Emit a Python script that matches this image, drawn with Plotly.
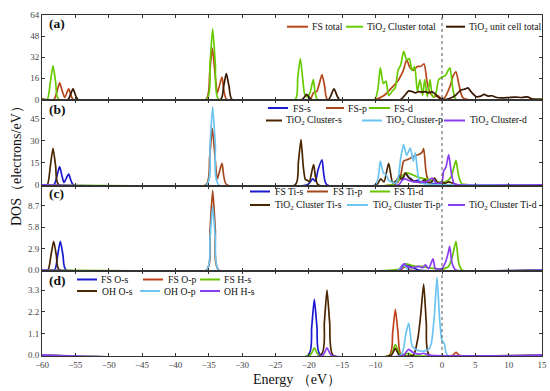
import plotly.graph_objects as go
from plotly.subplots import make_subplots

# ---------------- data ----------------
x_ticks = [-60, -55, -50, -45, -40, -35, -30, -25, -20, -15, -10, -5, 0, 5, 10, 15]

# panel (a)
fs_total_E = [-60, -58.2, -57.7, -57.35, -57.0, -56.6, -56.0, -55.3, -35.4, -34.85, -34.45, -34.05,
              -33.7, -33.0, -32.3, -19.8, -19.3, -18.8, -18.4, -18.0, -17.6, -17.2, -10.0, -8.7,
              -7.7, -6.5, -5.8, -5.3, -4.8, -4.3, -3.7, -3.2, -2.7, -2.2, -1.8, -1.2, -0.6, 0.0,
              0.5, 1.2, 1.7, 2.1, 2.6, 3.2, 15]
fs_total_V = [0, 0, 7, 12.5, 7, 1.5, 8, 0, 0, 20, 39, 20,
              5, 17, 0, 0, 5, 6, 12, 18.8, 10, 0, 0, 3,
              8, 15, 22, 30, 24, 22, 25, 25, 27, 12, 5, 2, 3, 0,
              2, 10, 18, 21, 10, 1, 0]
cl_total_E = [-60, -59.2, -58.75, -58.35, -57.95, -57.5, -35.3, -34.8, -34.4, -34.0, -33.5, -22.0,
              -21.65, -21.25, -20.9, -20.6, -20.2, -19.8, -19.3, -18.7, -10.1, -9.25, -8.8, -8.4,
              -8.0, -7.5, -7.0, -6.6, -6.2, -5.75, -5.3, -4.9, -4.5, -4.1, -3.7, -3.3, -2.9, -2.6,
              -2.2, -1.8, -1.4, -1.0, -0.5, 0.0, 0.5, 0.9, 1.2, 1.6, 2.1, 15]
cl_total_V = [0, 0, 13, 25.6, 13, 0, 0, 27, 53.5, 27, 0, 0,
              16, 31, 16, 4, 2, 5, 15, 0, 0, 24, 12, 14,
              3, 6, 9, 22, 26, 36.5, 30, 31, 22, 25, 6, 15, 3, 15,
              2, 15, 2, 3, 15, 17, 18, 22, 24, 9, 0, 0]
uc_total_E = [-60, -56.1, -55.35, -54.6, -33.2, -32.75, -32.35, -31.95, -31.5, -21.0, -20.3, -19.6,
              -17.0, -16.2, -15.4, -6.2, -5.6, -5.0, -4.5, -4.0, -3.5, -3.0, -2.5, -2.0, -1.5,
              -1.0, -0.4, 0.2, 1.0, 2.0, 2.8, 3.5, 3.9, 4.5, 5.2, 5.8, 6.3, 6.9, 7.5, 8.2, 9.0,
              10.0, 11.0, 12.0, 12.8, 13.5, 15]
uc_total_V = [0, 0, 8, 0, 0, 10, 19.5, 10, 0, 0, 3.8, 0,
              0, 8, 0, 0, 3, 6.5, 6, 5, 6, 5.5, 6, 5, 6,
              4, 1, 0, 0.5, 3, 7, 8, 8.8, 5, 2, 2.5, 3.8, 2.5, 2.8, 1.5, 1.2,
              1.5, 1.8, 1.5, 2, 0.5, 0]

# panel (b)
fs_s_E = [-60, -58.2, -57.7, -57.35, -57.0, -56.7, -56.0, -55.3, -20.2, -19.4, -19.0, -18.6,
          -18.0, -17.3, -7.2, -6.6, -6.3, -5.9, -5.5, -5.0, -4.6, -4.2, -3.7, -3.0, -2.3, -1.5,
          -0.8, 0, 15]
fs_s_V = [0, 0, 7, 12.4, 6, 1.5, 7.2, 0, 0, 4, 2.5, 10,
          17, 0, 0, 3, 6.5, 4, 8, 5, 4, 2, 3, 1.5, 2, 1,
          0.5, 0, 0]
fs_p_E = [-60, -35.4, -34.85, -34.45, -34.05, -33.7, -33.0, -32.3, -7.5, -6.6, -6.2, -5.76,
          -5.25, -4.75, -4.25, -3.5, -3.0, -2.75, -2.4, -2.0, -1.5, 0, 15]
fs_p_V = [0, 0, 19, 38.3, 19, 4, 14.6, 0, 0, 2, 6, 16,
          17, 18, 19.4, 20.5, 22, 24.5, 9, 2, 0, 0, 0]
fs_d_E = [-60, -7.5, -6.8, -6.3, -5.5, -4.5, -3.5, -2.5, -1.5, -0.5, 0.5, 1.3, 1.8, 2.1, 2.5,
          3.0, 4.0, 15]
fs_d_V = [0, 0, 2, 4, 8, 7, 5, 4, 3, 2, 2, 5, 12, 16.5, 6,
          0.5, 0, 0]
cl_s_E = [-60, -59.2, -58.75, -58.35, -57.95, -57.5, -22.0, -21.55, -21.15, -20.8, -20.5, -20.2,
          -19.9, -19.26, -18.6, -9.8, -9.2, -8.7, -8.0, -7.4, -6.8, -6.4, -6.0, -5.5, -5.0,
          -4.5, -3.8, -3.2, -2.6, -2.1, -1.6, -1.1, -0.6, 0.0, 0.5, 1.0, 1.6, 2.3, 15]
cl_s_V = [0, 0, 12.5, 24.8, 12.5, 0, 0, 15, 30.6, 12, 3.6, 3,
          2, 13.7, 0, 0, 4, 2, 14.6, 1.5, 3, 6, 3, 8, 5,
          3, 2, 1.5, 3.5, 1, 2, 4.5, 1, 1.5, 1, 2, 1, 0, 0]
cl_p_E = [-60, -35.3, -34.8, -34.4, -34.0, -33.5, -10.0, -9.25, -8.8, -8.4, -8.0, -7.0, -6.6,
          -6.2, -5.76, -5.3, -4.75, -4.3, -4.0, -3.5, -3.0, -2.0, 0, 15]
cl_p_V = [0, 0, 27, 52.9, 27, 0, 0, 16, 8, 7, 3, 1, 4,
          18, 27.2, 20, 24.9, 16, 21.6, 4, 1, 0.5, 0, 0]
cl_d_E = [-60, -6.5, -6.0, -5.5, -5.0, -4.0, -3.0, -2.5, -1.5, -0.8, 0.0, 0.25, 0.6, 1.0, 1.4,
          1.8, 2.5, 15]
cl_d_V = [0, 0, 3, 4, 3, 2, 2, 1.5, 4.5, 1, 2, 9.5, 12, 20.5, 8,
          1, 0, 0]

# panel (c)
fs_ti_s_E = [-60, -58.1, -57.65, -57.25, -56.85, -56.4, -6.5, -6.0, -5.5, -4.5, -3.5, 15]
fs_ti_s_V = [0, 0, 2, 3.9, 2, 0, 0, 0.6, 0.8, 0.4, 0, 0]
fs_ti_p_E = [-60, -35.3, -34.8, -34.4, -34.0, -33.5, -6.3, -5.5, -4.8, 15]
fs_ti_p_V = [0, 0, 5.4, 10.8, 5.4, 0, 0, 0.5, 0, 0]
fs_ti_d_E = [-60, -6.5, -5.8, -5.2, -4.5, -3.8, -3.0, -2.0, -1.0, 0.0, 1.0, 1.6, 2.1, 2.5, 3.0, 15]
fs_ti_d_V = [0, 0.1, 0.5, 0.8, 0.6, 0.5, 0.5, 0.3, 0.2, 0.1, 0.5, 2, 3.9, 1, 0, 0]
cl_ti_s_E = [-60, -59.1, -58.65, -58.25, -57.85, -57.4, 15]
cl_ti_s_V = [0, 0, 2, 3.9, 2, 0, 0]
cl_ti_p_E = [-60, -35.3, -34.8, -34.4, -34.0, -33.5, -6.5, -5.75, -5.0, 15]
cl_ti_p_V = [0, 0, 4.3, 8.6, 4.3, 0, 0, 0.7, 0, 0]
cl_ti_d_E = [-60, -6.3, -5.75, -5.3, -4.5, -3.5, -2.9, -2.5, -2.0, -1.35, -1.0, 0.0, 0.5, 0.9,
             1.15, 1.5, 2.0, 15]
cl_ti_d_V = [0, 0, 0.85, 0.5, 0.3, 0.5, 0.3, 0.7, 0.2, 1.5, 0.2, 0.2, 1, 2.2,
             3.2, 1, 0.05, 0]

# panel (d)
fs_o_s_E = [-60, -20.05, -19.55, -19.15, -18.75, -18.25, 15]
fs_o_s_V = [0, 0, 1.4, 2.83, 1.4, 0, 0]
fs_o_p_E = [-60, -7.9, -7.4, -7.0, -6.6, -6.1, 1.6, 2.1, 2.6, 15]
fs_o_p_V = [0, 0, 1.15, 2.33, 1.15, 0, 0, 0.15, 0, 0]
fs_h_s_E = [-60, -19.8, -19.15, -18.5, -7.7, -7.0, -6.3, -5.5, -5.0, -4.5, 15]
fs_h_s_V = [0, 0, 0.37, 0, 0, 0.54, 0.05, 0.05, 0.1, 0, 0]
oh_o_s_E = [-60, -18.15, -17.65, -17.25, -16.85, -16.35, -7.6, -7.0, -6.4, -4.3, -3.6, -3.15,
            -2.75, -2.35, -1.9, 15]
oh_o_s_V = [0, 0, 1.65, 3.3, 1.65, 0, 0, 0.35, 0, 0, 0.9, 2.2,
            3.6, 1.6, 0, 0]
oh_o_p_E = [-60, -6.2, -5.5, -5.0, -4.5, -4.0, -3.0, -2.0, -1.6, -1.15, -0.75, -0.35, 0.0, 0.35,
            0.8, 15]
oh_o_p_V = [0, 0, 0.95, 1.63, 0.5, 0.3, 0.2, 0.3, 0.6, 2.0, 3.94, 1.8, 0.75, 0.6,
            0, 0]
oh_h_s_E = [-60, -17.9, -17.25, -16.6, -5.8, -5.0, -4.4, -3.5, -2.75, -2.0, 15]
oh_h_s_V = [0, 0, 0.37, 0, 0, 0.3, 0.15, 0.05, 0.1, 0, 0]

# series names
names_a = ["FS total", "TiO<sub>2</sub> Cluster total", "TiO<sub>2</sub> unit cell total"]
names_b = ["FS-s", "FS-p", "FS-d", "TiO<sub>2</sub> Cluster-s", "TiO<sub>2</sub> Cluster-p",
           "TiO<sub>2</sub> Cluster-d"]
names_c = ["FS Ti-s", "FS Ti-p", "FS Ti-d", "TiO<sub>2</sub> Cluster Ti-s",
           "TiO<sub>2</sub> Cluster Ti-p", "TiO<sub>2</sub> Cluster Ti-d"]
names_d = ["FS O-s", "FS O-p", "FS H-s", "OH O-s", "OH O-p", "OH H-s"]

y_ticks_a = [0, 16, 32, 48, 64]
y_ticks_b = [0, 15, 30, 45]
y_ticks_c = [0, 2.9, 5.8, 8.7]
y_ticktext_c = ["0.0", "2.9", "5.8", "8.7"]
y_ticks_d = [0, 1.1, 2.2, 3.3]
y_ticktext_d = ["0.0", "1.1", "2.2", "3.3"]

# ---------------- styles ----------------
BLUE, BROWN, GREEN = "#1a1ad0", "#a5471c", "#66c400"
DARK, LBLUE, PURPLE = "#4a2600", "#6cc4f0", "#8a3cf2"
colors_a = ["#b8461c", "#66cc00", "#3a1800"]
colors_6 = [BLUE, BROWN, GREEN, DARK, LBLUE, PURPLE]
colors_d = [BLUE, "#c0401c", GREEN, DARK, LBLUE, PURPLE]

FONT = "Liberation Serif, Times New Roman, serif"
W, H = 550, 391
L, R, T, B = 42, 8, 15, 35
PW, PH = W - L - R, H - T - B

def px(x):   # page pixel -> paper x
    return (x - L) / PW

def py(y):   # page pixel -> paper y
    return (H - B - y) / PH

panels = [
    (1, list(zip([fs_total_E, cl_total_E, uc_total_E], [fs_total_V, cl_total_V, uc_total_V])),
     names_a, colors_a),
    (2, list(zip([fs_s_E, fs_p_E, fs_d_E, cl_s_E, cl_p_E, cl_d_E],
                 [fs_s_V, fs_p_V, fs_d_V, cl_s_V, cl_p_V, cl_d_V])), names_b, colors_6),
    (3, list(zip([fs_ti_s_E, fs_ti_p_E, fs_ti_d_E, cl_ti_s_E, cl_ti_p_E, cl_ti_d_E],
                 [fs_ti_s_V, fs_ti_p_V, fs_ti_d_V, cl_ti_s_V, cl_ti_p_V, cl_ti_d_V])),
     names_c, colors_6),
    (4, list(zip([fs_o_s_E, fs_o_p_E, fs_h_s_E, oh_o_s_E, oh_o_p_E, oh_h_s_E],
                 [fs_o_s_V, fs_o_p_V, fs_h_s_V, oh_o_s_V, oh_o_p_V, oh_h_s_V])),
     names_d, colors_d),
]

fig = make_subplots(rows=4, cols=1, shared_xaxes=True, vertical_spacing=0)

for row, series, names, cols in panels:
    for (e, v), n, c in zip(series, names, cols):
        fig.add_trace(go.Scatter(x=e, y=v, mode="lines", name=n, showlegend=False,
                                 hoverinfo="skip",
                                 line=dict(color=c, width=1.7, shape="spline", smoothing=0.6)),
                      row=row, col=1)

# legend layout (page pixel positions: line start, line end, text start, y)
legend_pos = [
    [(287, 308, 310, 26.7), (346, 363, 365, 26.7), (446, 465, 467, 26.7)],
    [(268, 288, 291, 108), (326, 344, 346, 108), (369, 390, 392, 108),
     (266, 282, 284, 120.5), (362, 382, 384, 120.5), (444, 465, 468, 120.5)],
    [(250, 270, 273, 191.5), (307, 328, 331, 191.5), (370, 390, 392, 191.5),
     (250, 270, 273, 205), (347, 368, 371, 205), (448, 465, 467, 205)],
    [(77, 97, 99, 279.5), (143, 163, 166, 279.5), (200, 220, 222, 279.5),
     (77, 97, 100, 291), (140, 160, 162, 291), (200, 220, 222, 291)],
]
shapes = []
annotations = []
for (row, series, names, cols), pos in zip(panels, legend_pos):
    for n, c, (x0, x1, xt, yy) in zip(names, cols, pos):
        shapes.append(dict(type="line", xref="paper", yref="paper", x0=px(x0), x1=px(x1),
                           y0=py(yy), y1=py(yy), line=dict(color=c, width=2)))
        annotations.append(dict(text=n, xref="paper", yref="paper", x=px(xt), y=py(yy),
                                xanchor="left", yanchor="middle", showarrow=False,
                                font=dict(family=FONT, size=9.7, color="#111")))

# panel labels
for lab, yy in [("(a)", 24), ("(b)", 110), ("(c)", 193), ("(d)", 280)]:
    annotations.append(dict(text="<b>" + lab + "</b>", xref="paper", yref="paper", x=px(47),
                            y=py(yy), xanchor="left", yanchor="middle", showarrow=False,
                            font=dict(family=FONT, size=13.5, color="#111")))

# axis titles
annotations.append(dict(text="DOS（electrons/eV）", xref="paper", yref="paper", x=px(17),
                        y=py(163), textangle=-90, xanchor="center", yanchor="middle",
                        showarrow=False, font=dict(family=FONT, size=14, color="#111")))
annotations.append(dict(text="Energy （eV）", xref="paper", yref="paper", x=px(297),
                        y=py(379), xanchor="center", yanchor="middle",
                        showarrow=False, font=dict(family=FONT, size=14, color="#111")))

# Fermi level dotted line
shapes.append(dict(type="line", xref="x4", yref="paper", x0=0, x1=0, y0=0, y1=1,
                   line=dict(color="#555", width=1, dash="dot")))

axis_common = dict(showline=True, linecolor="#333", linewidth=1, mirror="ticks",
                   ticks="inside", ticklen=3, tickcolor="#333", showgrid=False, zeroline=False,
                   tickfont=dict(family=FONT, size=9, color="#444"))

for r in range(1, 5):
    fig.update_xaxes(range=[-60, 15], tickvals=x_ticks, showticklabels=(r == 4),
                     row=r, col=1, **axis_common)

fig.update_yaxes(range=[-0.6, 64], tickvals=y_ticks_a, row=1, col=1, **axis_common)
fig.update_yaxes(range=[-0.5, 57.4], tickvals=y_ticks_b, row=2, col=1, **axis_common)
fig.update_yaxes(range=[-0.1, 11.45], tickvals=y_ticks_c, ticktext=y_ticktext_c,
                 row=3, col=1, **axis_common)
fig.update_yaxes(range=[-0.04, 4.28], tickvals=y_ticks_d, ticktext=y_ticktext_d,
                 row=4, col=1, **axis_common)

fig.update_layout(width=W, height=H, margin=dict(l=L, r=R, t=T, b=B, autoexpand=False),
                  paper_bgcolor="white", plot_bgcolor="white", showlegend=False,
                  hovermode=False, shapes=shapes, annotations=annotations)

# the page body gets no margin so the figure sits at the window's top-left corner
fig.write_html("out.html", config={"displayModeBar": False},
               post_script="document.body.style.margin='0';document.body.style.overflow='hidden';")
